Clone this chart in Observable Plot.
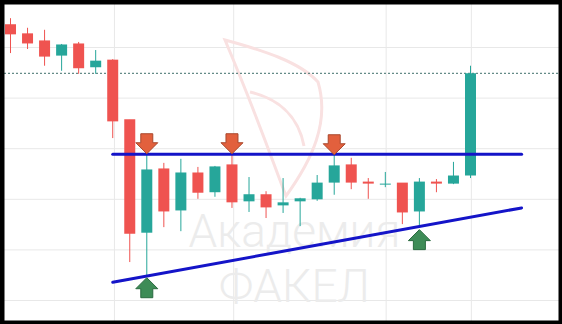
<!DOCTYPE html>
<html><head><meta charset="utf-8">
<script src="https://cdn.jsdelivr.net/npm/d3@7"></script>
<script src="https://cdn.jsdelivr.net/npm/@observablehq/plot@0.6"></script>
<style>html,body{margin:0;padding:0;background:#fff;} svg{display:block}</style>
</head><body><div id="chart"></div>
<script>
// Candles (OHLC)
const opens  = [154.4,152.6,151.2,148.2,150.6,145.9,147.4,135.6,113.2,125.9,117.6,125.1,121.2,126.7,119.4,120.8,118.6,119.4,119.8,123.1,126.7,123.3,122.7,123.1,117.4,123.3,122.9,124.5];
const highs  = [155.7,153.8,153.4,150.6,151.0,149.4,147.6,135.6,129.2,127.1,127.9,126.3,126.5,129.2,124.3,121.5,124.1,120.2,124.7,129.0,128.1,124.1,125.3,123.1,124.1,123.9,127.3,146.3];
const lows   = [148.8,149.6,146.3,145.3,144.7,144.7,132.0,107.5,104.9,114.4,113.6,120.0,120.4,118.2,117.4,116.2,117.2,114.6,119.6,120.8,121.9,120.0,122.3,115.0,114.4,121.3,122.9,124.1];
const closes = [152.6,150.8,148.2,150.6,145.9,147.4,135.4,113.2,125.9,117.6,125.3,121.3,126.5,119.4,121.0,118.4,119.4,120.2,123.3,126.7,123.3,123.1,123.1,117.4,123.5,123.1,124.7,144.9];

// Lines drawn on the chart
const resistanceX = [6, 30];
const resistanceY = [128.9, 128.9];
const trendX = [6, 30];
const trendY = [103.6, 118.3];

// Arrow markers (candle indices)
const downArrowIdx = [8, 13, 19];
const upArrowIdx = [8, 24];

// Grid
const gridPrices = [100, 110, 120, 130, 140, 150];
const gridIdx = [6.1, 13.1, 22.05, 27.05];

const watermark = ["Академия", "ФАКЕЛ"];

const candles = opens.map((o, i) => ({i, open: o, high: highs[i], low: lows[i], close: closes[i]}));
const UP = "#26a69a", DOWN = "#ef5350";
const col = d => d.close >= d.open ? UP : DOWN;
const lastClose = closes[closes.length - 1];

function arrowSymbol(dir) {
  return {
    draw(ctx, size) {
      const k = Math.sqrt(size / Math.PI) / 10;
      const p = [[-6,-10],[6,-10],[6,-1],[11,-1],[0,10],[-11,-1],[-6,-1]];
      p.forEach(([x, y], j) => {
        const X = x * k, Y = y * k * dir;
        if (j === 0) ctx.moveTo(X, Y); else ctx.lineTo(X, Y);
      });
      ctx.closePath();
    }
  };
}

const logo = () => {
  const g = d3.create("svg:g").attr("fill", "none").attr("stroke", "#f9e1e1").attr("stroke-width", 3);
  g.append("path").attr("d", "M225,40 C262,50 300,62 318,82 C330,122 312,160 286,196 C272,160 258,118 225,40 Z");
  g.append("path").attr("d", "M250,92 C276,98 298,114 304,146");
  return g.node();
};

const chart = Plot.plot({
  width: 562,
  height: 324,
  margin: 0,
  style: {background: "#fff"},
  x: {domain: [0, 27], range: [10, 470], axis: null},
  y: {domain: [100, 150], range: [300, 47], axis: null},
  marks: [
    Plot.ruleY(gridPrices, {stroke: "#e8e8e8", strokeWidth: 1}),
    Plot.ruleX(gridIdx, {stroke: "#e8e8e8", strokeWidth: 1}),
    logo,
    Plot.text([watermark.join("\n")], {frameAnchor: "middle", text: d => d, dx: 13, dy: 94, lineHeight: 1.2, fontSize: 46, fontFamily: "Roboto", fontWeight: 300, fill: "#ececec"}),
    Plot.ruleY([lastClose], {stroke: "#3f6f6b", strokeWidth: 1, strokeDasharray: "2,2"}),
    Plot.ruleX(candles, {x: "i", y1: "low", y2: "high", stroke: col, strokeWidth: 1}),
    Plot.ruleX(candles, {x: "i", y1: "open", y2: "close", stroke: col, strokeWidth: 11, insetTop: -0.5, insetBottom: -0.5}),
    Plot.line(resistanceX.map((x, j) => ({x, y: resistanceY[j]})), {x: "x", y: "y", stroke: "#1414c8", strokeWidth: 3}),
    Plot.line(trendX.map((x, j) => ({x, y: trendY[j]})), {x: "x", y: "y", stroke: "#1414c8", strokeWidth: 3}),
    Plot.dot(downArrowIdx.map(i => candles[i]), {x: "i", y: "high", symbol: arrowSymbol(1), r: 10, fill: "#e2603d", stroke: "#a9472c", strokeWidth: 1, dy: -9}),
    Plot.dot(upArrowIdx.map(i => candles[i]), {x: "i", y: "low", symbol: arrowSymbol(-1), r: 10, fill: "#3e8c57", stroke: "#2b6b40", strokeWidth: 1, dy: 12}),
    Plot.frame({stroke: "#000", strokeWidth: 8})
  ]
});
document.getElementById("chart").appendChild(chart);
</script>
</body></html>
